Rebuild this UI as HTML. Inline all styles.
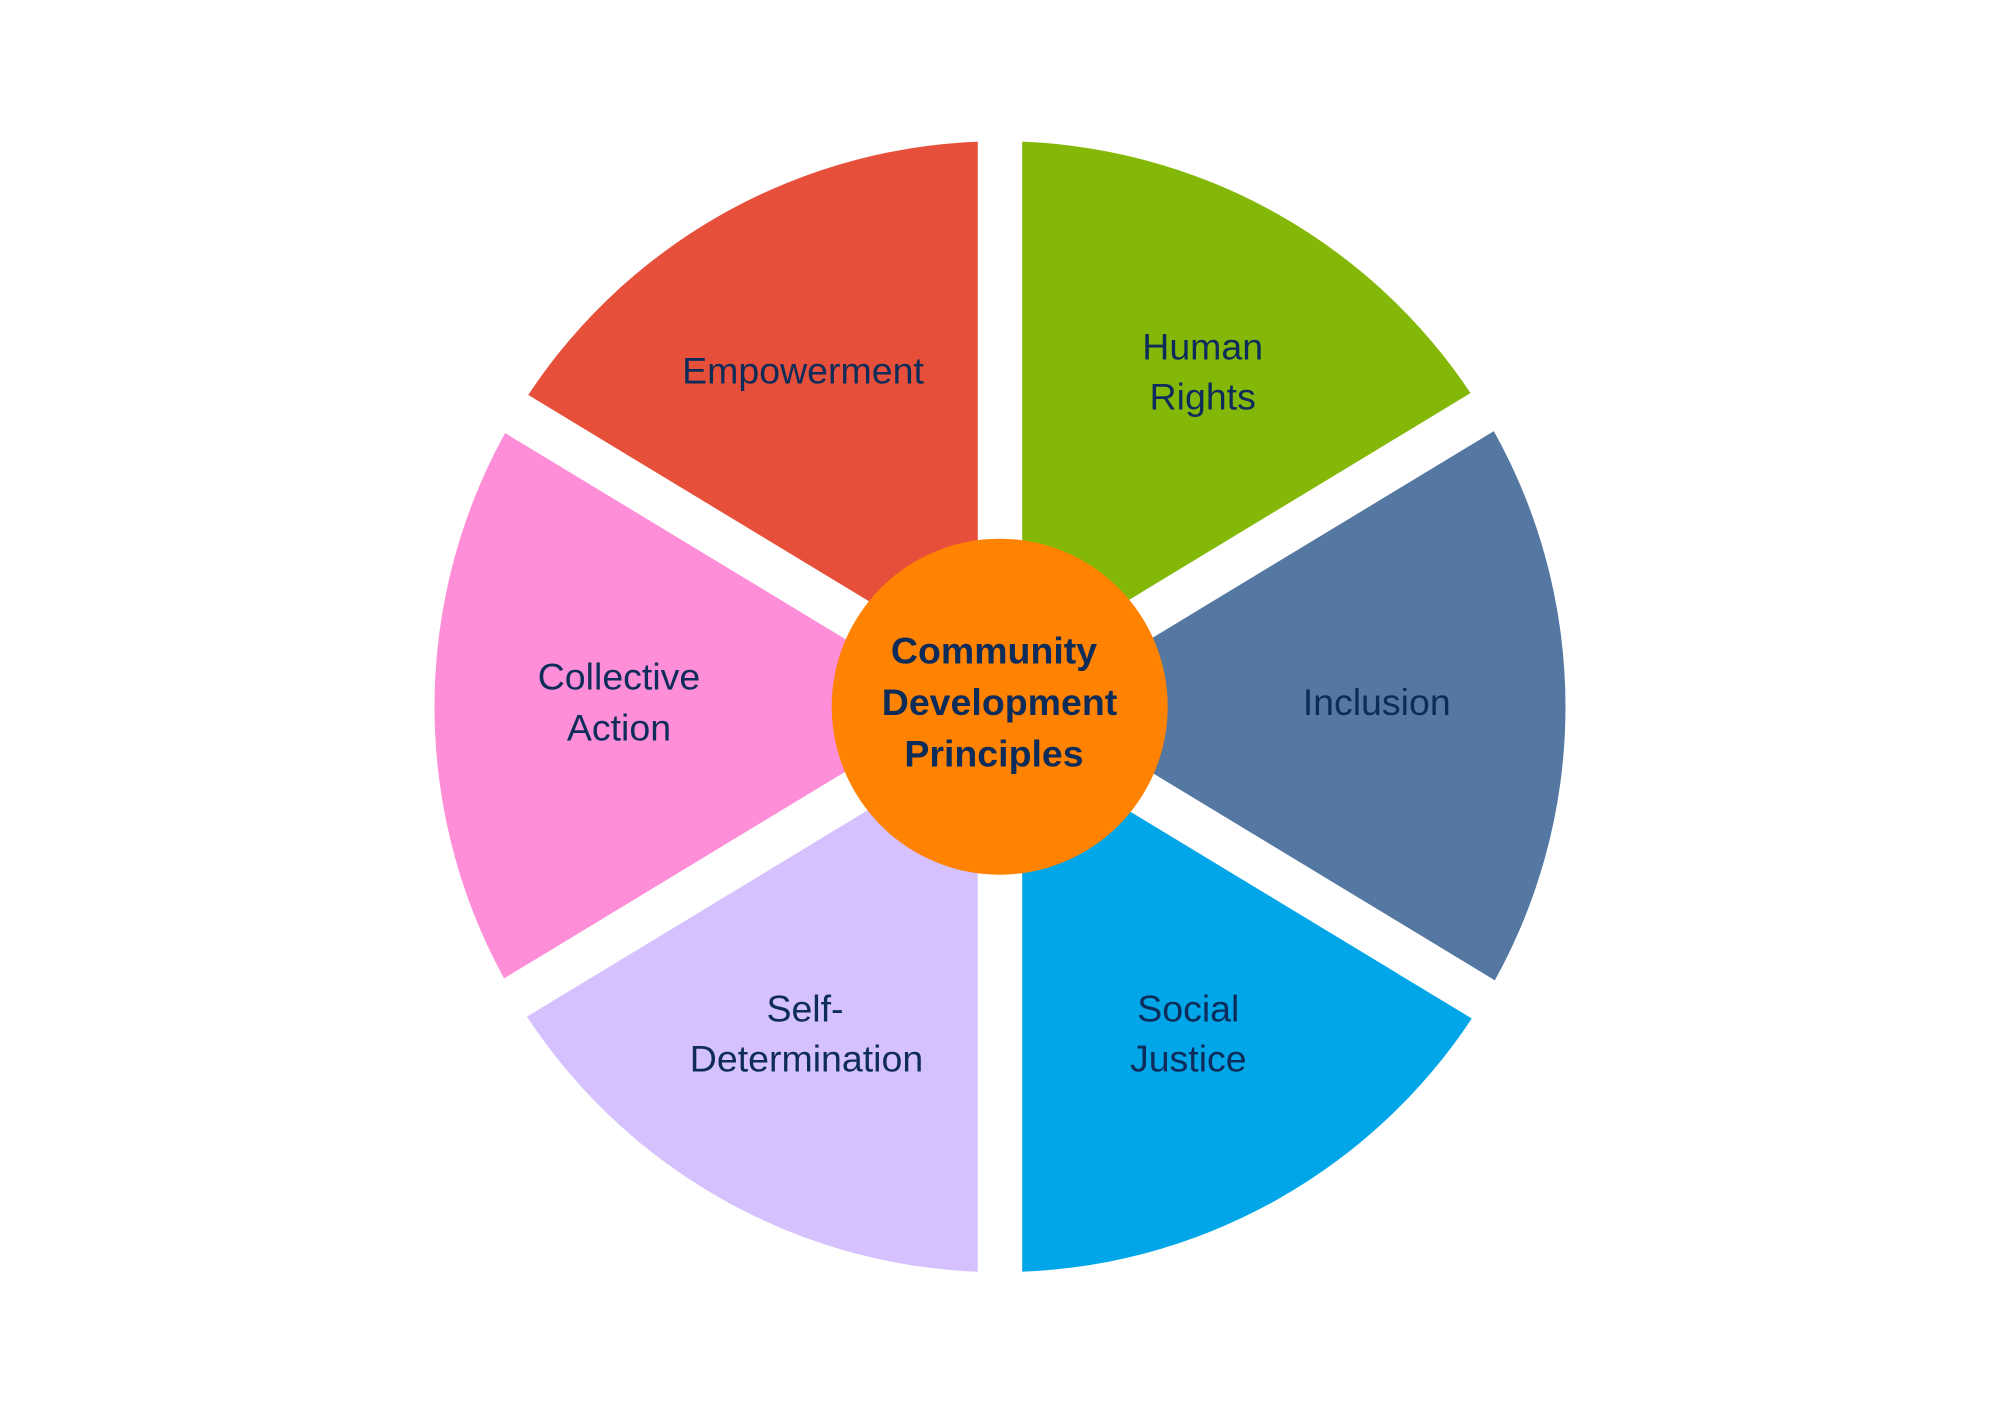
<!DOCTYPE html>
<html>
<head>
<meta charset="utf-8">
<style>
  html, body { margin: 0; padding: 0; background: #ffffff; }
  body { width: 2000px; height: 1414px; overflow: hidden; }
  svg { display: block; }
  text { font-family: "Liberation Sans", Arial, sans-serif; fill: #0e2c5a; }
  .lbl { font-size: 37.5px; font-weight: normal; }
  .ctr { font-size: 37.5px; font-weight: bold; }
</style>
</head>
<body>
<svg width="2000" height="1414" viewBox="0 0 2000 1414" xmlns="http://www.w3.org/2000/svg">
  <rect x="0" y="0" width="2000" height="1414" fill="#ffffff"/>

  <!-- wedges -->
  <path d="M1000,706.7 L1483.7,413.75 A565.5,565.5 0 0 0 1000,141.2 Z" fill="#84b808"/>
  <path d="M1000,706.7 L1000,141.2 A565.5,565.5 0 0 0 516.3,413.75 Z" fill="#e6503a"/>
  <path d="M1000,706.7 L516.3,413.75 A565.5,565.5 0 0 0 516.3,999.65 Z" fill="#fd8ed7"/>
  <path d="M1000,706.7 L516.3,999.65 A565.5,565.5 0 0 0 1000,1272.2 Z" fill="#d4c1fd"/>
  <path d="M1000,706.7 L1000,1272.2 A565.5,565.5 0 0 0 1483.7,999.65 Z" fill="#00a6e8"/>
  <path d="M1000,706.7 L1483.7,999.65 A565.5,565.5 0 0 0 1483.7,413.75 Z" fill="#5478a1"/>

  <!-- white gaps -->
  <rect x="977.8" y="100" width="44.4" height="1220" fill="#ffffff"/>
  <line x1="1598.75" y1="341.5" x2="401.25" y2="1066.7" stroke="#ffffff" stroke-width="44.6"/>
  <line x1="401.25" y1="344.1" x2="1598.75" y2="1069.3" stroke="#ffffff" stroke-width="44.6"/>

  <!-- center circle -->
  <circle cx="999.7" cy="706.7" r="168" fill="#ff8200"/>

  <!-- center text -->
  <text class="ctr" x="994" y="663.3" text-anchor="middle">Community</text>
  <text class="ctr" x="999.5" y="715" text-anchor="middle">Development</text>
  <text class="ctr" x="994" y="766.7" text-anchor="middle">Principles</text>

  <!-- labels -->
  <text class="lbl" x="803" y="383.5" text-anchor="middle">Empowerment</text>

  <text class="lbl" x="1202.7" y="359.3" text-anchor="middle">Human</text>
  <text class="lbl" x="1202.7" y="409.3" text-anchor="middle">Rights</text>

  <text class="lbl" x="619" y="689.3" text-anchor="middle">Collective</text>
  <text class="lbl" x="619" y="740.7" text-anchor="middle">Action</text>

  <text class="lbl" x="1376.7" y="715" text-anchor="middle">Inclusion</text>

  <text class="lbl" x="805" y="1021.7" text-anchor="middle">Self-</text>
  <text class="lbl" x="806.5" y="1071.7" text-anchor="middle">Determination</text>

  <text class="lbl" x="1188.3" y="1021.7" text-anchor="middle">Social</text>
  <text class="lbl" x="1188.3" y="1071.7" text-anchor="middle">Justice</text>
</svg>
</body>
</html>
